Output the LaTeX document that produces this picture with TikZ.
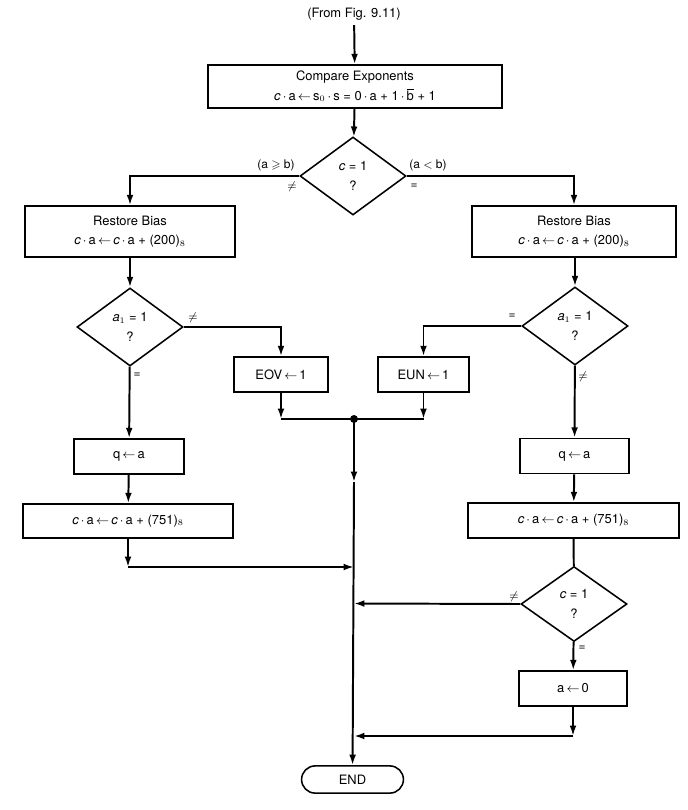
\documentclass[tikz,border=0pt]{standalone}
\usepackage{amsmath, amssymb}
\usepackage{fontspec}
\setmainfont{TeX Gyre Heros}
\usetikzlibrary{positioning,arrows.meta,shapes.geometric,shapes.misc,calc}
\tikzset{
  flowarrow/.style={-{Latex[length=2.6mm, width=1.7mm]}, line width=1.4pt},
  flowline/.style={line width=1.4pt},
  procbox/.style={draw, line width=1.1pt, fill=white, minimum height=0.875cm, align=center, inner sep=2pt},
  testnode/.style={draw, diamond, line width=1.1pt, fill=white, minimum width=2.65cm, minimum height=1.95cm, align=center, inner sep=0pt},
  endnode/.style={draw, rounded rectangle, line width=1.1pt, fill=white, minimum width=2.78cm, minimum height=0.68cm},
  edgelabel/.style={font=\fontsize{8.5}{10}\selectfont, inner sep=1pt},
  joindot/.style={circle, fill=black, inner sep=0pt, minimum size=2mm}
}
\newcommand{\dotop}{\,$\cdot$\,}
\newcommand{\getsto}{\,$\leftarrow$\,}

\begin{document}
\begin{tikzpicture}[x=0.025cm, y=-0.025cm, every node/.style={font=\fontsize{9.2}{14}\selectfont}]
  \useasboundingbox (0,0) rectangle (688,810);
  \node (from) at (354,14) {(From Fig. 9.11)};
  \node[procbox, minimum width=7.35cm, minimum height=1.075cm] (cmp) at (355,86.5) {Compare Exponents\\\textit{c}\dotop a\getsto s$_0$\dotop s = 0\dotop a + 1\dotop$\overline{\mbox{b}}$ + 1};
  \node[testnode] (d1) at (353,176) {\textit{c} = 1\\?};
  \node[procbox, minimum width=5.25cm, minimum height=1.275cm] (rbL) at (130,231.5) {Restore Bias\\\textit{c}\dotop a\getsto\textit{c}\dotop a + (200)$_8$};
  \node[procbox, minimum width=5.1cm, minimum height=1.275cm] (rbR) at (574,231.5) {Restore Bias\\\textit{c}\dotop a\getsto\textit{c}\dotop a + (200)$_8$};
  \node[testnode] (aL) at (130,327) {\textit{a}$_1$ = 1\\?};
  \node[testnode] (aR) at (575,326) {\textit{a}$_1$ = 1\\?};
  \node[procbox, minimum width=2.35cm] (eov) at (281,374.5) {EOV\getsto 1};
  \node[procbox, minimum width=2.28cm] (eun) at (423.5,374.5) {EUN\getsto 1};
  \node[procbox, minimum width=2.75cm] (qL) at (129,456.5) {q\getsto a};
  \node[procbox, minimum width=5.25cm, minimum height=0.85cm] (cL) at (128,521) {\textit{c}\dotop a\getsto\textit{c}\dotop a + (751)$_8$};
  \node[procbox, minimum width=2.73cm] (qR) at (574.5,456) {q\getsto a};
  \node[procbox, minimum width=5.28cm] (cR) at (573.5,520.5) {\textit{c}\dotop a\getsto\textit{c}\dotop a + (751)$_8$};
  \node[testnode, minimum height=1.875cm] (d2) at (574,604) {\textit{c} = 1\\?};
  \node[procbox, minimum width=2.7cm] (zR) at (573,688.5) {a\getsto 0};
  \node[endnode] (endn) at (352.5,779.5) {END};

  \coordinate (j1) at (354,419);
  \coordinate (j2) at (354,482);
  \coordinate (j3) at (354,567);
  \coordinate (j4) at (354,603.5);
  \coordinate (j5) at (354,736);
  \coordinate (k1) at (eov.south |- j1);
  \coordinate (k2) at (eun.south |- j1);
  \coordinate (k3) at (cL.south |- j3);
  \coordinate (k4) at (zR.south |- j5);

  \draw[flowarrow] (from) -- (cmp);
  \draw[flowarrow] (cmp) -- (d1);
  \draw[flowarrow] (d1.west) -| (rbL.north);
  \draw[flowarrow] (d1.east) -| (rbR.north);
  \draw[flowarrow] (rbL) -- (aL);
  \draw[flowarrow] (rbR.south -| aR) -- (aR);
  \draw[flowarrow] (aL.east) -| (eov.north);
  \draw[flowarrow] (aR.west) -| (eun.north);
  \draw[flowarrow] (aL) -- (qL);
  \draw[flowarrow] (aR) -- (qR);
  \draw[flowarrow] (eov) -- (k1);
  \draw[flowline] (k1) -- (j1);
  \draw[flowarrow] (eun) -- (k2);
  \draw[flowline] (k2) -- (j1);
  \node[joindot] at (j1) {};
  \draw[flowarrow] (qL) -- (cL);
  \draw[flowarrow] (qR) -- (cR);
  \draw[flowline] (cR) -- (d2);
  \draw[flowarrow] (d2) -- (zR);
  \draw[flowarrow] (cL) -- (k3);
  \draw[flowarrow] (k3) -- (j3);
  \draw[flowarrow] (d2.west) -- (j4);
  \draw[flowarrow] (zR) -- (k4);
  \draw[flowarrow] (k4) -- (j5);
  \draw[flowarrow] (j1) -- (j2);
  \draw[flowarrow] (j2) -- (endn);

  \node[edgelabel] at (276,165) {(a $\geqslant$ b)};
  \node[edgelabel] at (292,187) {$\neq$};
  \node[edgelabel] at (428,165) {(a $<$ b)};
  \node[edgelabel] at (414,186) {=};
  \node[edgelabel] at (193,318) {$\neq$};
  \node[edgelabel] at (137,375) {=};
  \node[edgelabel] at (512,316) {=};
  \node[edgelabel] at (583,377) {$\neq$};
  \node[edgelabel] at (514,597) {$\neq$};
  \node[edgelabel] at (582,648) {=};
\end{tikzpicture}
\end{document}
